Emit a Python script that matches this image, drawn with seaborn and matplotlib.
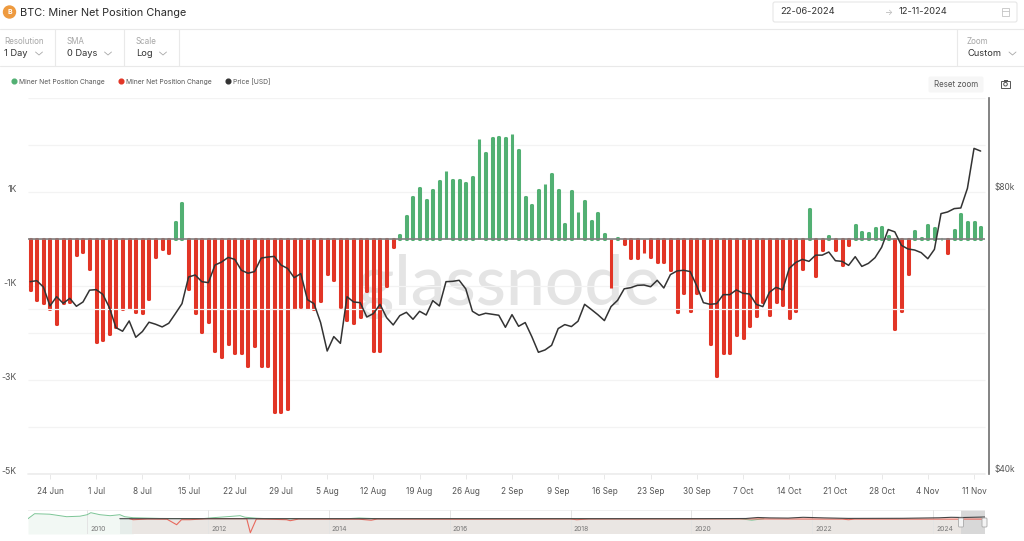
import numpy as np
import pandas as pd
import seaborn as sns
import matplotlib
matplotlib.use("Agg")
import matplotlib.pyplot as plt
import matplotlib.dates as mdates
from matplotlib.lines import Line2D
from matplotlib.patches import Circle, FancyBboxPatch, Rectangle
from matplotlib.transforms import ScaledTranslation

# daily values, 21 Jun 2024 -> 12 Nov 2024
start_date = "2024-06-21"
net_change = [
    -1085, -1297, -1368, -1496, -1815, -1368, -1333, -340, -276, -645,
    -2190, -2148, -2020, -1865, -1496, -1475, -1545, -1574, -1269, -376,
    -220, -305, 355, 759, -1070, -1567, -1971, -1772, -2389, -2503,
    -2233, -2432, -2432, -2694, -2276, -2694, -2694, -3687, -3673, -3623,
    -1475, -1446, -1475, -1496, -1326, -744, -879, -1453, -1723, -1780,
    -1652, -1099, -2375, -2375, -993, -177, 85, 496, 900, 1092,
    837, 1035, 1234, 1453, 1262, 1262, 1198, 1319, 2120, 1836,
    2155, 2170, 2155, 2226, 1893, 900, 730, 1049, 1177, 1390,
    1049, 312, 1014, 567, 801, 390, 560, 99, -1042, 14,
    -113, -411, -411, -298, -383, -489, -489, -652, -1560, -1156,
    -1531, -1156, -1085, -2233, -2907, -2432, -2425, -2049, -2106, -1850,
    -1631, -1333, -1617, -1333, -1404, -1687, -1531, -645, 631, -780,
    -227, 64, -241, -553, -121, 298, 156, 128, 241, 255,
    71, -1914, -1531, -737, 170, 14, 298, 241, 0, -291,
    199, 539, 369, 369, 255,
]
price_usd = [
    64175, 64333, 63340, 60460, 61850, 60850, 61600, 60410, 61050, 62850,
    62930, 62210, 60220, 57320, 56815, 58270, 55980, 56770, 58090, 57800,
    57420, 57940, 59330, 60800, 64920, 65240, 64175, 64020, 66850, 67350,
    68120, 67790, 66000, 65520, 65790, 68010, 68180, 68290, 66850, 66300,
    64810, 65460, 61400, 60800, 58040, 54120, 56070, 55150, 61850, 61050,
    60950, 58840, 59330, 60700, 58750, 57700, 59040, 59520, 58510, 59670,
    59130, 61250, 60460, 64175, 64230, 64390, 63040, 59670, 59090, 59380,
    59230, 59090, 57370, 59180, 57510, 58040, 56070, 53950, 54260, 54880,
    57190, 57750, 57470, 58230, 60700, 59950, 59180, 58320, 60360, 61300,
    63060, 63240, 63600, 63650, 63380, 64390, 63190, 65300, 65890, 66000,
    65790, 63490, 60950, 60700, 60800, 62160, 62160, 62890, 62370, 62260,
    60700, 60360, 62520, 63290, 62890, 66300, 67290, 67790, 67460, 68500,
    68500, 69030, 67570, 67460, 66800, 68240, 66630, 67130, 68070, 69830,
    72950, 72530, 70170, 69540, 69370, 68920, 67900, 69480, 75860, 76170,
    76800, 76920, 80720, 89050, 88470,
]

# overview strip, year vs rough level
green_years = [2009.02, 2009.13, 2009.38, 2009.66, 2009.88, 2010.0, 2010.06, 2010.21, 2010.38,
               2010.54, 2010.62, 2010.76, 2011.2, 2011.9, 2012.08, 2012.31, 2012.53, 2012.61,
               2012.8, 2013.0, 2014.3, 2014.5, 2014.8, 2020.8, 2021.0, 2021.2]
green_vals = [0, 5, 4.5, 2, 2.5, 4, 6, 4, 3, 4, 2, 1, 0.3, 0, 1, 2, 3, 1.5, 0.5, 0, 0, 0.7, 0, 0, -1.5, 0]
red_years = [2010.7, 2010.76, 2011.0, 2011.32, 2011.48, 2011.56, 2011.7, 2012.0, 2012.64, 2012.7,
             2012.8, 2013.0, 2013.3, 2013.36, 2013.5, 2014.5, 2014.7, 2014.8, 2016.0, 2018.0,
             2018.1, 2018.3, 2021.0, 2022.5, 2022.6, 2022.7, 2024.86]
red_vals = [0, -1, -0.3, -0.5, -6, -1, -1, 0, 0, -14, -0.3, -0.5, -1, -2, -0.3, -0.5, -1.5, -0.3,
            -0.5, -0.3, -1, -0.3, -0.2, -0.4, -1, -0.4, -0.4]
price_years = [2010.54, 2012.0, 2016.0, 2020.0, 2020.9, 2021.1, 2021.3, 2021.6, 2021.85, 2022.2,
               2022.6, 2023.5, 2024.1, 2024.3, 2024.5, 2024.86]
price_vals = [0, 0, 0, 0, 0.2, 1.2, 0.8, 0.6, 1.4, 0.8, 0.3, 0.4, 0.9, 1.4, 1.2, 1.7]
year_labels = [2010, 2012, 2014, 2016, 2018, 2020, 2022, 2024]

green = "#52b073"
red = "#e23526"
dark = "#333333"
grid_col = "#f3f3f3"

sns.set_theme(style="white")
plt.rcParams["font.family"] = ["Inter", "DejaVu Sans"]

W, H = 1024, 541
fig = plt.figure(figsize=(W / 100, H / 100), dpi=100, facecolor="white")


def px_axes(left, top, right, bottom, **kw):
    return fig.add_axes([left / W, 1 - bottom / H, (right - left) / W, (bottom - top) / H], **kw)


# page chrome in pixel coordinates, sits behind the chart
ui = px_axes(0, 0, W, H, zorder=0)
ui.set_xlim(0, W)
ui.set_ylim(H, 0)
ui.axis("off")


def chevron(x, y):
    ui.plot([x - 3.5, x, x + 3.5], [y - 1.5, y + 1.5, y - 1.5], color="#a8a8a8", lw=0.6)


def selector(x, label, value, chev_x):
    ui.text(x, 41, label, fontsize=5.8, color="#a6a6a6", va="center")
    ui.text(x, 54, value, fontsize=6.7, color="#333333", va="center")
    chevron(chev_x, 53.5)


ui.add_patch(Circle((9.5, 12), 6, color="#ee9a3f"))
ui.text(9.5, 12, "B", fontsize=5, color="white", ha="center", va="center", fontweight="bold")
ui.text(20, 12.5, "BTC: Miner Net Position Change", fontsize=7.85, color="#2b2b2b", va="center")

ui.add_patch(FancyBboxPatch((773, 2), 244, 20, boxstyle="round,pad=0,rounding_size=2",
                            fc="white", ec="#e6e6e6", lw=0.8))
ui.text(780.5, 12, "22-06-2024", fontsize=6.7, color="#333333", va="center")
ui.text(889, 12, "→", fontsize=6, color="#b5b5b5", va="center", ha="center")
ui.text(899, 12, "12-11-2024", fontsize=6.7, color="#333333", va="center")
ui.add_patch(Rectangle((1001.5, 8), 7.5, 7.5, fc="none", ec="#c4c4c4", lw=0.6))
ui.plot([1001.5, 1009], [10.5, 10.5], color="#c4c4c4", lw=0.6)

ui.plot([0, W], [29, 29], color="#e9e9e9", lw=0.8)
ui.plot([0, W], [66, 66], color="#e9e9e9", lw=0.8)
for sep in [55, 124, 179, 956.5]:
    ui.plot([sep, sep], [29, 66], color="#e9e9e9", lw=0.8)

selector(4, "Resolution", "1 Day", 39)
selector(67, "SMA", "0 Days", 108)
selector(136, "Scale", "Log", 163)
selector(967, "Zoom", "Custom", 1012.5)

ui.add_patch(FancyBboxPatch((928.5, 76.5), 55, 16, boxstyle="round,pad=0,rounding_size=2",
                            fc="#f6f6f6", ec="none"))
ui.text(956, 84.5, "Reset zoom", fontsize=5.7, color="#555555", ha="center", va="center")
ui.add_patch(Rectangle((1001, 81), 9, 6.5, fc="none", ec="#555555", lw=0.7))
ui.add_patch(Rectangle((1003.5, 79.8), 4, 1.2, fc="#555555", ec="none"))
ui.add_patch(Circle((1005.5, 84.2), 1.8, fc="none", ec="#555555", lw=0.7))

# watermark goes behind the bars
wm = px_axes(0, 0, W, H, zorder=0.5, facecolor="none")
wm.set_xlim(0, W)
wm.set_ylim(H, 0)
wm.axis("off")
wm.text(509, 305, "glassnode", fontsize=50, family="Lato", fontweight="medium", color="#e4e4e4",
        ha="center", va="baseline")

# main chart
days = pd.date_range(start_date, periods=len(net_change), freq="D")
day_nums = mdates.date2num(days)
df = pd.DataFrame({
    "day": day_nums,
    "change": net_change,
    "side": ["up" if v >= 0 else "down" for v in net_change],
    "price": price_usd,
})

ax = px_axes(28, 98, 989, 474, zorder=1, facecolor="none")
sns.barplot(data=df, x="day", y="change", hue="side", palette={"up": green, "down": red},
            native_scale=True, dodge=False, width=0.15, saturation=1, legend=False, ax=ax, zorder=3)
for bar in ax.patches:
    bar.set_edgecolor(bar.get_facecolor())
    bar.set_linewidth(2.2)
    bar.set_joinstyle("round")

ax.set_xlim(day_nums[0] - 0.33, day_nums[0] + 145.27)
ax.set_ylim(-5000, 3000)
grid_end = day_nums[0] + 144.67
ax.hlines([3000, 2000, 1000, -1000, -2000, -3000, -4000, -5000], ax.get_xlim()[0], grid_end,
          color=grid_col, lw=0.9, zorder=1)
ax.hlines(0, ax.get_xlim()[0], grid_end, color="#808080", lw=1.2, zorder=4)

tick_days = pd.date_range("2024-06-24", "2024-11-11", freq="7D")
ax.set_xticks(mdates.date2num(tick_days))
ax.set_xticklabels([f"{d.day} {d.strftime('%b')}" for d in tick_days], fontsize=5.9, color="#555555")
ax.tick_params(axis="x", length=3.5, width=0.7, color="#e8e8e8", pad=6, bottom=True)
ax.set_yticks([1000, -1000, -3000, -5000])
ax.set_yticklabels(["1K", "-1K", "-3K", "-5K"], fontsize=6.3, color="#555555", va="bottom")
ax.tick_params(axis="y", length=0, pad=8)
nudge = ScaledTranslation(0, -2 / 100, fig.dpi_scale_trans)
for label in ax.get_yticklabels():
    label.set_transform(label.get_transform() + nudge)
ax.set_xlabel("")
ax.set_ylabel("")
sns.despine(ax=ax, left=True, bottom=True, top=True, right=True)
ax.axhline(-5000, xmax=0.996, color="#ececec", lw=1.2, clip_on=False)

# price on log axis
ax2 = ax.twinx()
ax2.set_zorder(2)
ax2.patch.set_visible(False)
sns.lineplot(data=df, x="day", y="price", color=dark, lw=1.1, ax=ax2, zorder=5)
ax2.set_yscale("log")
ax2.set_ylim(40000, 40000 * 2 ** (376 / 282))
ax2.hlines(60000, ax.get_xlim()[0], grid_end, color=grid_col, lw=0.9, zorder=1)
ax2.set_yticks([80000, 40000])
ax2.set_yticklabels(["$80k", "$40k"], fontsize=6, color="#555555", va="bottom")
ax2.minorticks_off()
ax2.tick_params(axis="y", length=0, pad=4)
ax2.set_xlabel("")
ax2.set_ylabel("")
for side in ["left", "top", "bottom"]:
    ax2.spines[side].set_visible(False)
ax2.spines["right"].set_visible(True)
ax2.spines["right"].set_color("#6e6e6e")
ax2.spines["right"].set_linewidth(1.2)

handles = [
    Line2D([], [], ls="", marker="o", ms=3.4, color=green),
    Line2D([], [], ls="", marker="o", ms=3.4, color=red),
    Line2D([], [], ls="", marker="o", ms=3.4, color=dark),
]
fig.legend(handles, ["Miner Net Position Change", "Miner Net Position Change", "Price [USD]"],
           ncol=3, frameon=False, fontsize=4.85, labelcolor="#555555",
           loc="center left", bbox_to_anchor=(2.5 / W, 1 - 81.5 / H),
           handletextpad=0.0, columnspacing=1.55, handlelength=1.6)

# overview strip
nav = px_axes(28, 510, 985, 534, zorder=1, facecolor="none")
nav.set_xlim(2009.02, 2024.86)
nav.set_ylim(-15.3, 8.7)
base_frac = 15.3 / 24
nav.fill_between(green_years[:12], -15.3, green_vals[:12], color="#f2f8f4", lw=0, zorder=1)
nav.axvspan(2010.54, 2010.74, ymax=base_frac, color="#e6edea", lw=0, zorder=2)
nav.axvspan(2010.74, 2024.47, ymax=base_frac, color="#eae6e3", lw=0, zorder=2)
nav.axvspan(2024.47, 2024.86, color="#d8d8d8", lw=0, zorder=2)
sns.lineplot(x=green_years, y=green_vals, color="#7cc596", lw=0.7, ax=nav, zorder=4)
sns.lineplot(x=red_years, y=red_vals, color="#e8695d", lw=0.8, ax=nav, zorder=4)
sns.lineplot(x=price_years, y=price_vals, color="#444444", lw=0.8, ax=nav, zorder=5)
for year in year_labels:
    nav.axvline(year, color="#e4e4e4", lw=0.7, zorder=3)
    nav.text(year + 0.05, -10.5, str(year), fontsize=4.9, color="#777777", va="center", zorder=6)
nav.axhline(8.7, color="#eeeeee", lw=1.2)
nav.set_xticks([])
nav.set_yticks([])
nav.set_xlabel("")
nav.set_ylabel("")
sns.despine(ax=nav, left=True, bottom=True, top=True, right=True)

for hx in [961, 984.5]:
    ui_h = FancyBboxPatch((hx - 2.5, 518), 5, 9, boxstyle="round,pad=0,rounding_size=1",
                          fc="#f4f4f4", ec="#a9a9a9", lw=0.6, zorder=8)
    ui.add_patch(ui_h)
ui.set_zorder(3)
ui.patch.set_visible(False)

fig.savefig("out.png", dpi=100)
